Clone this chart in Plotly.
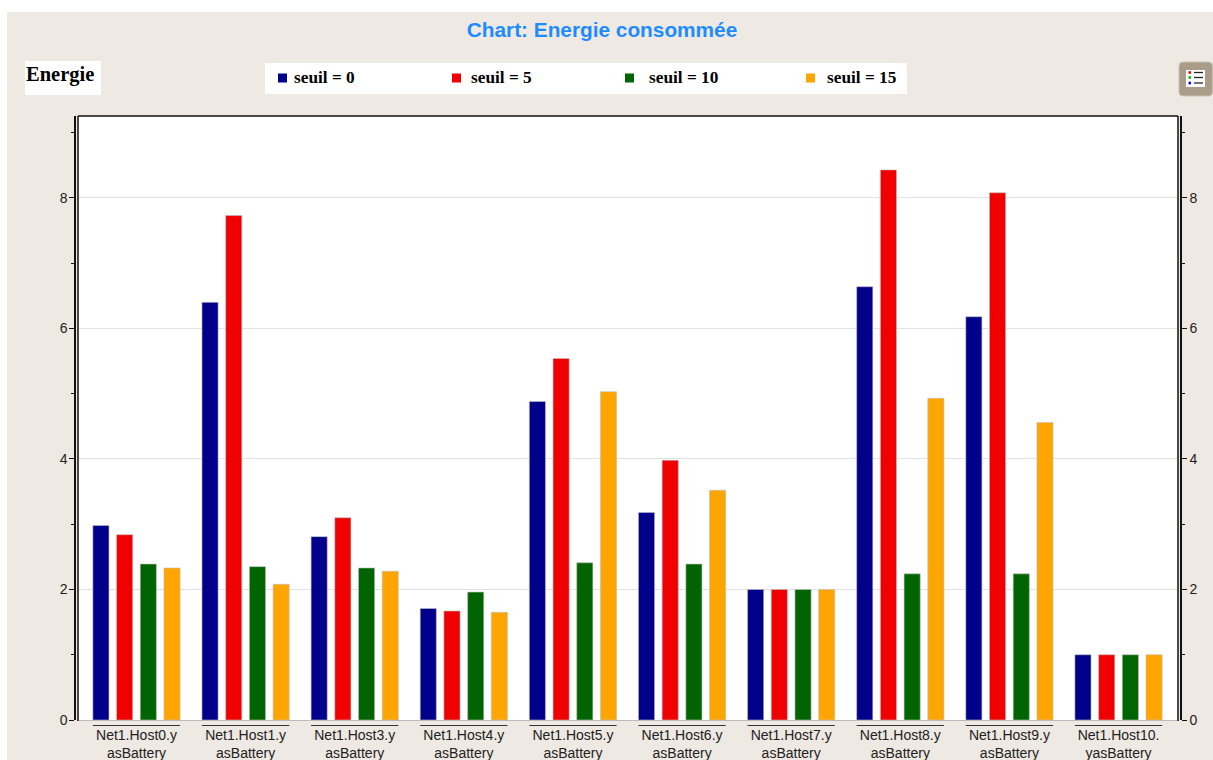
import plotly.graph_objects as go

W, H = 1213, 760
LAYOUT_H = 768
hosts = ["Net1.Host0.y<br>asBattery", "Net1.Host1.y<br>asBattery", "Net1.Host3.y<br>asBattery",
         "Net1.Host4.y<br>asBattery", "Net1.Host5.y<br>asBattery", "Net1.Host6.y<br>asBattery",
         "Net1.Host7.y<br>asBattery", "Net1.Host8.y<br>asBattery", "Net1.Host9.y<br>asBattery",
         "Net1.Host10.<br>yasBattery"]
seuil_0 = [2.98, 6.40, 2.81, 1.71, 4.88, 3.18, 2.00, 6.64, 6.18, 1.00]
seuil_5 = [2.84, 7.73, 3.10, 1.67, 5.54, 3.98, 2.00, 8.43, 8.08, 1.00]
seuil_10 = [2.39, 2.35, 2.33, 1.96, 2.41, 2.39, 2.00, 2.24, 2.24, 1.00]
seuil_15 = [2.33, 2.08, 2.28, 1.65, 5.03, 3.52, 2.00, 4.93, 4.56, 1.00]
series_names = ["seuil = 0", "seuil = 5", "seuil = 10", "seuil = 15"]
series_colors = ["#00008B", "#F00000", "#006400", "#FFA500"]
legend_x = [278, 452, 625, 806]
legend_text_x = [293, 470, 648, 826]
y_ticks = [0, 2, 4, 6, 8]

def px(x): return x / W
def py(y): return 1 - y / H

fig = go.Figure()
for name, vals, col in zip(series_names, [seuil_0, seuil_5, seuil_10, seuil_15], series_colors):
    fig.add_bar(x=hosts, y=vals, name=name, showlegend=False,
                marker=dict(color=col, line=dict(color="rgba(190,190,190,0.6)", width=1)))
# invisible trace so the right-hand axis is drawn
fig.add_scatter(x=hosts, y=seuil_0, yaxis="y2", mode="none", showlegend=False, hoverinfo="skip")

# rounded button outline
bx0, bx1, by0, by1, r = px(1179), px(1212.5), py(96), py(62), 4
rx, ry = r / W, r / H
button = (f"M{bx0+rx},{by1} L{bx1-rx},{by1} Q{bx1},{by1} {bx1},{by1-ry} L{bx1},{by0+ry} Q{bx1},{by0} {bx1-rx},{by0} "
          f"L{bx0+rx},{by0} Q{bx0},{by0} {bx0},{by0+ry} L{bx0},{by1-ry} Q{bx0},{by1} {bx0+rx},{by1} Z")

shapes = [
    dict(type="rect", xref="paper", yref="paper", x0=px(7), x1=1, y0=py(H + 8), y1=py(12), fillcolor="#EEE9E2", line_width=0, layer="below"),
    dict(type="rect", xref="paper", yref="paper", x0=px(78), x1=px(1178), y0=py(720), y1=py(116), fillcolor="white", line_width=0, layer="below"),
    dict(type="rect", xref="paper", yref="paper", x0=px(265), x1=px(907), y0=py(94), y1=py(63), fillcolor="white", line_width=0, layer="below"),
    dict(type="rect", xref="paper", yref="paper", x0=px(25), x1=px(101), y0=py(95), y1=py(61), fillcolor="white", line_width=0, layer="below"),
    # frame
    dict(type="line", xref="paper", yref="paper", x0=px(78), x1=px(1178), y0=py(116), y1=py(116), line=dict(color="#111", width=1.5)),
    dict(type="line", xref="paper", yref="paper", x0=px(78), x1=px(78), y0=py(116), y1=py(721), line=dict(color="#111", width=1.5)),
    dict(type="line", xref="paper", yref="paper", x0=px(1178), x1=px(1178), y0=py(116), y1=py(721), line=dict(color="#111", width=1.5)),
    # button
    dict(type="path", xref="paper", yref="paper", path=button, fillcolor="#A99D89", line=dict(color="#C9C1B2", width=1)),
    dict(type="rect", xref="paper", yref="paper", x0=px(1186), x1=px(1205), y0=py(87), y1=py(70), fillcolor="white", line_width=0),
]
# overlines above the tick labels
for i in range(len(hosts)):
    shapes.append(dict(type="line", xref="x", yref="paper", x0=i - 0.4, x1=i + 0.4, y0=py(725.5), y1=py(725.5), line=dict(color="#333", width=1)))
for yy, c in zip((72.5, 77.5, 83), ("#F00000", "#00C000", "#0000F0")):
    shapes.append(dict(type="rect", xref="paper", yref="paper", x0=px(1188.5), x1=px(1191), y0=py(yy + 1.3), y1=py(yy - 1.3), fillcolor=c, line_width=0))
    shapes.append(dict(type="line", xref="paper", yref="paper", x0=px(1194), x1=px(1203), y0=py(yy), y1=py(yy), line=dict(color="#222", width=1.3)))

annotations = [dict(text="<b>Energie</b>", xref="paper", yref="paper", x=px(25), y=py(74.5), xanchor="left", yanchor="middle",
                    showarrow=False, borderpad=0, font=dict(family="Liberation Serif", size=20.5, color="black"))]
for lx, tx, name, col in zip(legend_x, legend_text_x, series_names, series_colors):
    shapes.append(dict(type="rect", xref="paper", yref="paper", x0=px(lx), x1=px(lx + 9), y0=py(82.5), y1=py(73.5), fillcolor=col, line_width=0))
    annotations.append(dict(text=f"<b>{name}</b>", xref="paper", yref="paper", x=px(tx), y=py(77.5), xanchor="left", yanchor="middle",
                            showarrow=False, borderpad=0, font=dict(family="Liberation Serif", size=17.3, color="black")))

axis_font = dict(family="Liberation Sans", size=14, color="#222")
fig.update_layout(
    width=W, height=LAYOUT_H, autosize=False, margin=dict(l=0, r=0, t=0, b=0),
    paper_bgcolor="white", plot_bgcolor="rgba(0,0,0,0)",
    barmode="group", bargap=0.131, bargroupgap=0.32, showlegend=False,
    shapes=shapes, annotations=annotations,
    title=dict(text="<b>Chart: Energie consommée</b>", x=602 / W, xanchor="center", y=py(29.5), yanchor="middle",
               font=dict(family="Liberation Sans", size=20.8, color="#1E8CFF")),
    xaxis=dict(domain=[px(78), px(1178)], range=[-0.536, 9.545], type="category", categoryorder="array", categoryarray=hosts,
               tickfont=dict(family="Liberation Sans", size=14, color="#222"), ticks="", ticklabelstandoff=2,
               showline=True, linecolor="#bbb", linewidth=1, showgrid=False, tickangle=0, fixedrange=True),
    yaxis=dict(domain=[py(720), py(116)], range=[0, 9.256], anchor="free", position=px(75), tickvals=y_ticks,
               tickfont=axis_font, ticks="outside", ticklen=5, tickcolor="#111", showline=True, linecolor="#111", linewidth=1.5,
               gridcolor="#E2E2E2", gridwidth=1, zeroline=False, ticklabelstandoff=-1,
               minor=dict(dtick=1, ticks="outside", ticklen=3, tickcolor="#111", showgrid=False)),
    yaxis2=dict(overlaying="y", side="right", range=[0, 9.256], anchor="free", position=px(1181), tickvals=y_ticks,
                tickfont=axis_font, ticks="outside", ticklen=5, tickcolor="#111", showline=True, linecolor="#111", linewidth=1.5,
                showgrid=False, zeroline=False,
                minor=dict(dtick=1, ticks="outside", ticklen=3, tickcolor="#111", showgrid=False)),
)
fig.write_html("out.html", config=dict(displayModeBar=False), default_width=f"{W}px", default_height=f"{LAYOUT_H}px",
               post_script="document.body.style.margin='0';document.body.style.overflow='hidden';")
